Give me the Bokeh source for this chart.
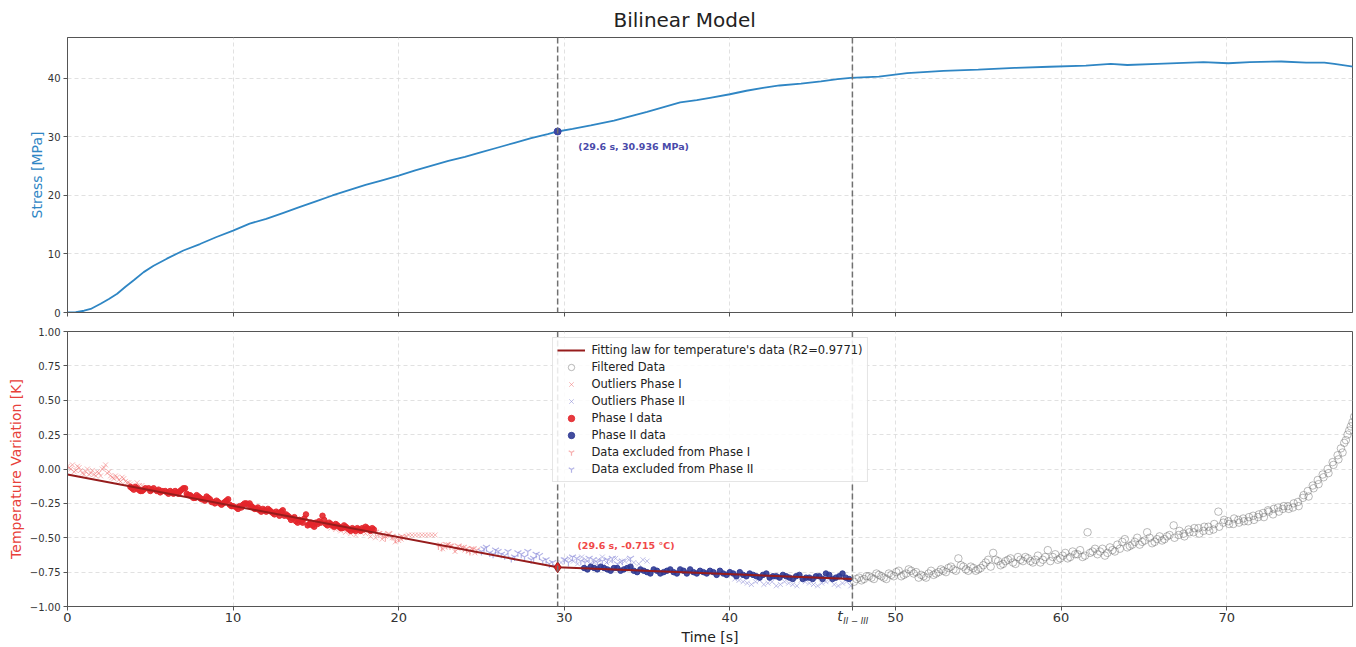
from bokeh.plotting import figure
from bokeh.models import (Range1d, FixedTicker, Span, Label, Legend, LegendItem,
                          CustomJSTickFormatter, LinearAxis)
from bokeh.layouts import column
from bokeh.embed import file_html
from bokeh.resources import INLINE

FONT = "DejaVu Sans"

# ---------------- data ----------------
stress_t = [0, 0.5, 1, 1.4, 2, 2.5, 3, 3.5, 4, 4.6, 5.2, 6, 7, 8, 9, 10, 11, 12, 13, 14,
            15, 16, 17, 18, 19, 20, 21, 22, 23, 24, 25, 26, 27, 28, 29, 29.6, 30.5, 31.6,
            33, 34.2, 35, 36, 37, 38, 38.8, 40, 41, 42, 43, 44.3, 45.5, 46.5, 47.3, 49,
            50.7, 52.9, 55, 57.2, 59.3, 61.5, 63, 64, 65.8, 68.6, 70.1, 71.4, 73.3, 74.8,
            75.9, 76.5, 77.7]
stress_v = [0, 0.05, 0.3, 0.6, 1.5, 2.3, 3.2, 4.4, 5.5, 6.9, 8.0, 9.2, 10.6, 11.7, 12.9,
            14.0, 15.2, 16.0, 17.0, 18.0, 19.0, 20.0, 20.9, 21.8, 22.6, 23.4, 24.3, 25.1,
            25.9, 26.6, 27.4, 28.2, 29.0, 29.8, 30.5, 30.936, 31.4, 32.0, 32.8, 33.7, 34.3,
            35.1, 35.9, 36.3, 36.7, 37.3, 37.9, 38.4, 38.8, 39.1, 39.5, 39.9, 40.1, 40.3,
            40.9, 41.3, 41.5, 41.8, 42.0, 42.2, 42.5, 42.3, 42.5, 42.8, 42.6, 42.8, 42.9,
            42.7, 42.7, 42.5, 42.0]

break_t = 29.6
break_stress = 30.936
break_temp = -0.715
t_transition = 47.4

fit_t = [0.0, break_t, t_transition]
fit_T = [-0.04, break_temp, -0.80]

phase1_pts = [
    (3.8, -0.13), (3.9, -0.14), (4.0, -0.15), (4.1, -0.13), (4.2, -0.14), (4.3, -0.15),
    (4.4, -0.16), (4.5, -0.16), (4.6, -0.15), (4.7, -0.14), (4.9, -0.14), (5.0, -0.16),
    (5.1, -0.15), (5.2, -0.14), (5.4, -0.16), (5.5, -0.15), (5.6, -0.17), (5.7, -0.16),
    (5.9, -0.16), (6.0, -0.17), (6.1, -0.18), (6.2, -0.16), (6.3, -0.17), (6.4, -0.18),
    (6.5, -0.16), (6.6, -0.17), (6.7, -0.18), (6.8, -0.16), (6.9, -0.15), (7.0, -0.14),
    (7.1, -0.14), (7.2, -0.18), (7.3, -0.19), (7.4, -0.19), (7.5, -0.20), (7.6, -0.21),
    (7.7, -0.21), (7.8, -0.19), (7.9, -0.20), (8.0, -0.21), (8.1, -0.22), (8.2, -0.22),
    (8.3, -0.23), (8.4, -0.20), (8.5, -0.21), (8.6, -0.22), (8.7, -0.24), (8.8, -0.24),
    (8.9, -0.25), (9.0, -0.23), (9.1, -0.24), (9.2, -0.25), (9.3, -0.26), (9.4, -0.25),
    (9.5, -0.24), (9.6, -0.23), (9.7, -0.22), (9.8, -0.26), (9.9, -0.27), (10.0, -0.27),
    (10.2, -0.28), (10.3, -0.29), (10.4, -0.27), (10.5, -0.28), (10.6, -0.26), (10.7, -0.25),
    (10.8, -0.25), (10.9, -0.26), (11.0, -0.25), (11.1, -0.27), (11.2, -0.28), (11.3, -0.29),
    (11.4, -0.29), (11.5, -0.28), (11.6, -0.30), (11.7, -0.31), (11.8, -0.29), (11.9, -0.30),
    (12.0, -0.31), (12.1, -0.29), (12.2, -0.30), (12.3, -0.31), (12.4, -0.32), (12.5, -0.33),
    (12.6, -0.31), (12.7, -0.32), (12.8, -0.34), (12.9, -0.31), (13.0, -0.30), (13.1, -0.34),
    (13.2, -0.33), (13.3, -0.34), (13.4, -0.35), (13.5, -0.37), (13.6, -0.36), (13.7, -0.35),
    (13.8, -0.38), (13.9, -0.39), (14.0, -0.37), (14.1, -0.38), (14.2, -0.39), (14.3, -0.36),
    (14.4, -0.33), (14.5, -0.41), (14.6, -0.40), (14.7, -0.39), (14.8, -0.41), (14.9, -0.42),
    (15.0, -0.39), (15.1, -0.40), (15.2, -0.38), (15.3, -0.39), (15.4, -0.34), (15.5, -0.37),
    (15.6, -0.40), (15.7, -0.41), (15.8, -0.39), (15.9, -0.40), (16.0, -0.41), (16.1, -0.42),
    (16.2, -0.40), (16.3, -0.41), (16.4, -0.42), (16.5, -0.43), (16.6, -0.43), (16.7, -0.41),
    (16.8, -0.42), (16.9, -0.43), (17.0, -0.44), (17.1, -0.45), (17.2, -0.43), (17.3, -0.44),
    (17.4, -0.45), (17.5, -0.43), (17.6, -0.44), (17.7, -0.45), (17.8, -0.43), (17.9, -0.44),
    (18.0, -0.42), (18.1, -0.43), (18.2, -0.44), (18.3, -0.45), (18.4, -0.43), (18.5, -0.44)]

phase2_pts = [
    (31.2, -0.72), (31.4, -0.73), (31.6, -0.71), (31.8, -0.72), (32.0, -0.73), (32.2, -0.71),
    (32.4, -0.72), (32.6, -0.73), (32.8, -0.74), (33.0, -0.72), (33.2, -0.72), (33.4, -0.74),
    (33.6, -0.73), (33.8, -0.72), (34.0, -0.71), (34.2, -0.74), (34.4, -0.75), (34.6, -0.73),
    (34.8, -0.74), (35.0, -0.75), (35.2, -0.76), (35.4, -0.73), (35.6, -0.74), (35.8, -0.76),
    (36.0, -0.75), (36.2, -0.74), (36.4, -0.73), (36.6, -0.75), (36.8, -0.76), (37.0, -0.73),
    (37.2, -0.74), (37.4, -0.76), (37.6, -0.73), (37.8, -0.75), (38.0, -0.76), (38.2, -0.74),
    (38.4, -0.75), (38.6, -0.76), (38.8, -0.74), (39.0, -0.75), (39.2, -0.77), (39.4, -0.74),
    (39.6, -0.76), (39.8, -0.77), (40.0, -0.75), (40.2, -0.76), (40.4, -0.78), (40.6, -0.75),
    (40.8, -0.77), (41.0, -0.78), (41.2, -0.76), (41.4, -0.77), (41.6, -0.78), (41.8, -0.79),
    (42.0, -0.77), (42.2, -0.76), (42.4, -0.79), (42.6, -0.78), (42.8, -0.78), (43.0, -0.79),
    (43.2, -0.77), (43.4, -0.78), (43.6, -0.79), (43.8, -0.80), (44.0, -0.78), (44.2, -0.77),
    (44.4, -0.80), (44.6, -0.79), (44.8, -0.79), (45.0, -0.80), (45.2, -0.78), (45.4, -0.78),
    (45.6, -0.80), (45.8, -0.76), (46.0, -0.77), (46.2, -0.80), (46.4, -0.79), (46.6, -0.78),
    (46.8, -0.76), (47.0, -0.79), (47.2, -0.80)]

out1_pts = [
    (0.0, 0.02), (0.1, 0.01), (0.2, 0.0), (0.3, 0.03), (0.4, -0.02), (0.5, -0.01),
    (0.6, 0.02), (0.7, 0.01), (0.8, -0.01), (0.9, -0.03), (1.0, -0.04), (1.1, -0.02),
    (1.2, 0.0), (1.3, -0.04), (1.4, -0.03), (1.5, -0.01), (1.6, -0.04), (1.7, -0.05),
    (1.8, -0.02), (1.9, -0.03), (2.0, -0.05), (2.1, 0.0), (2.2, 0.01), (2.3, 0.03),
    (2.4, -0.03), (2.5, -0.02), (2.6, -0.05), (2.7, -0.06), (2.8, -0.07), (2.9, -0.05),
    (3.0, -0.06), (3.1, -0.08), (3.2, -0.09), (3.3, -0.06), (3.4, -0.07), (3.5, -0.09),
    (3.6, -0.10), (3.7, -0.10), (3.8, -0.11), (3.9, -0.12), (4.0, -0.13), (4.2, -0.10),
    (4.35, -0.12), (4.5, -0.12), (15.9, -0.43), (16.2, -0.44), (16.5, -0.45), (16.8, -0.46),
    (17.1, -0.47), (17.4, -0.48), (17.7, -0.46), (18.0, -0.47), (18.3, -0.49), (18.6, -0.50),
    (18.8, -0.47), (19.0, -0.51), (19.2, -0.49), (19.4, -0.48), (19.6, -0.50), (19.8, -0.53),
    (20.0, -0.52), (20.15, -0.51), (20.3, -0.50), (20.45, -0.49), (20.6, -0.48), (20.8, -0.48),
    (21.0, -0.48), (21.2, -0.48), (21.4, -0.48), (21.6, -0.48), (21.8, -0.48), (22.0, -0.48),
    (22.2, -0.48), (22.5, -0.55), (22.65, -0.58), (22.8, -0.57), (23.0, -0.55), (23.2, -0.56),
    (23.4, -0.60), (23.6, -0.58), (23.8, -0.57), (24.0, -0.59), (24.2, -0.60), (24.4, -0.58),
    (24.6, -0.61)]

out2_pts = [
    (29.8, -0.68), (30.05, -0.66), (30.3, -0.65), (30.55, -0.67), (30.8, -0.69), (31.05, -0.64),
    (31.3, -0.66), (31.55, -0.69), (31.8, -0.68), (32.05, -0.66), (32.3, -0.64), (32.55, -0.68),
    (32.8, -0.67), (33.1, -0.65), (33.4, -0.68), (33.65, -0.67), (33.9, -0.66), (34.2, -0.68),
    (34.5, -0.69), (34.75, -0.66), (35.0, -0.67), (40.3, -0.80), (40.55, -0.81), (40.8, -0.82),
    (41.05, -0.83), (41.3, -0.84), (41.55, -0.82), (41.8, -0.81), (42.05, -0.84), (42.3, -0.83),
    (42.55, -0.82), (42.8, -0.85), (43.05, -0.84), (43.3, -0.82), (43.55, -0.83), (43.8, -0.84),
    (44.05, -0.85), (44.3, -0.81), (44.55, -0.82), (44.8, -0.83), (45.05, -0.84), (45.3, -0.85),
    (45.55, -0.83), (45.8, -0.82), (46.05, -0.81), (46.3, -0.84), (46.55, -0.85), (46.8, -0.83),
    (47.05, -0.82), (47.3, -0.85)]

excl1_pts = [
    (18.6, -0.46), (18.8, -0.47), (19.0, -0.48), (19.2, -0.50), (19.4, -0.47), (19.6, -0.49),
    (19.8, -0.51), (20.0, -0.50), (20.2, -0.49), (22.4, -0.56), (22.6, -0.57), (22.9, -0.55),
    (23.1, -0.56), (23.4, -0.58), (23.6, -0.56), (23.9, -0.57), (24.1, -0.58), (24.3, -0.60),
    (24.5, -0.58), (24.7, -0.59)]

excl2_pts = [
    (25.0, -0.60), (25.15, -0.58), (25.3, -0.57), (25.5, -0.61), (25.7, -0.62), (25.85, -0.59),
    (26.0, -0.60), (26.2, -0.62), (26.4, -0.63), (26.6, -0.60), (26.8, -0.65), (27.0, -0.64),
    (27.2, -0.61), (27.4, -0.62), (27.6, -0.64), (27.8, -0.60), (28.0, -0.66), (28.15, -0.65),
    (28.3, -0.62), (28.5, -0.63), (28.7, -0.67), (28.9, -0.66), (29.1, -0.69), (29.3, -0.68),
    (29.5, -0.71), (30.0, -0.66), (30.25, -0.68), (30.5, -0.64), (30.75, -0.65), (31.0, -0.67),
    (31.25, -0.68), (31.5, -0.65), (31.75, -0.66), (32.0, -0.68), (32.3, -0.67), (32.6, -0.66),
    (32.9, -0.65), (33.2, -0.69), (33.5, -0.67), (34.0, -0.65)]

filt_pts = [
    (47.5, -0.82), (47.65, -0.80), (47.8, -0.79), (47.95, -0.81), (48.1, -0.80), (48.25, -0.78),
    (48.4, -0.78), (48.55, -0.79), (48.7, -0.80), (48.85, -0.76), (49.0, -0.77), (49.15, -0.78),
    (49.3, -0.79), (49.45, -0.80), (49.6, -0.76), (49.75, -0.77), (49.9, -0.78), (50.05, -0.75),
    (50.2, -0.74), (50.35, -0.78), (50.5, -0.77), (50.65, -0.76), (50.8, -0.73), (50.95, -0.74),
    (51.1, -0.76), (51.25, -0.75), (51.4, -0.79), (51.55, -0.77), (51.7, -0.78), (51.85, -0.79),
    (52.0, -0.76), (52.15, -0.74), (52.3, -0.77), (52.45, -0.76), (52.6, -0.75), (52.75, -0.73),
    (52.9, -0.74), (53.05, -0.75), (53.2, -0.72), (53.35, -0.71), (53.5, -0.73), (53.65, -0.74),
    (53.8, -0.65), (53.95, -0.70), (54.1, -0.71), (54.25, -0.73), (54.4, -0.74), (54.55, -0.71),
    (54.7, -0.72), (54.85, -0.74), (55.0, -0.73), (55.15, -0.72), (55.3, -0.70), (55.45, -0.68),
    (55.6, -0.66), (55.75, -0.71), (55.9, -0.61), (56.05, -0.66), (56.2, -0.67), (56.35, -0.70),
    (56.5, -0.69), (56.65, -0.67), (56.8, -0.66), (56.95, -0.65), (57.1, -0.68), (57.25, -0.69),
    (57.4, -0.64), (57.55, -0.66), (57.7, -0.67), (57.85, -0.64), (58.0, -0.65), (58.15, -0.67),
    (58.3, -0.68), (58.45, -0.66), (58.6, -0.63), (58.75, -0.68), (58.9, -0.66), (59.05, -0.64),
    (59.2, -0.59), (59.35, -0.67), (59.5, -0.64), (59.65, -0.62), (59.8, -0.66), (59.95, -0.65),
    (60.1, -0.63), (60.25, -0.61), (60.4, -0.65), (60.55, -0.64), (60.7, -0.60), (60.85, -0.62),
    (61.0, -0.62), (61.15, -0.59), (61.3, -0.64), (61.45, -0.63), (61.6, -0.46), (61.75, -0.61),
    (61.9, -0.60), (62.05, -0.58), (62.2, -0.62), (62.35, -0.60), (62.5, -0.58), (62.65, -0.63),
    (62.8, -0.61), (62.95, -0.57), (63.1, -0.59), (63.25, -0.60), (63.4, -0.55), (63.55, -0.58),
    (63.7, -0.53), (63.85, -0.51), (64.0, -0.57), (64.15, -0.56), (64.3, -0.55), (64.45, -0.53),
    (64.6, -0.50), (64.75, -0.55), (64.9, -0.53), (65.05, -0.52), (65.2, -0.46), (65.35, -0.50),
    (65.5, -0.54), (65.65, -0.53), (65.8, -0.51), (65.95, -0.49), (66.1, -0.52), (66.25, -0.51),
    (66.4, -0.49), (66.55, -0.48), (66.8, -0.41), (66.85, -0.50), (67.1, -0.48), (67.15, -0.45),
    (67.4, -0.47), (67.45, -0.49), (67.7, -0.44), (67.75, -0.46), (68.0, -0.46), (68.05, -0.43),
    (68.3, -0.43), (68.35, -0.47), (68.6, -0.45), (68.65, -0.42), (68.9, -0.42), (68.95, -0.45),
    (69.2, -0.44), (69.25, -0.40), (69.5, -0.31), (69.55, -0.42), (69.8, -0.39), (69.85, -0.37),
    (70.1, -0.38), (70.15, -0.40), (70.4, -0.40), (70.45, -0.36), (70.7, -0.37), (70.75, -0.39),
    (71.0, -0.36), (71.05, -0.38), (71.3, -0.38), (71.35, -0.35), (71.6, -0.34), (71.65, -0.37),
    (71.9, -0.35), (71.95, -0.33), (72.2, -0.32), (72.25, -0.35), (72.5, -0.30), (72.55, -0.31),
    (72.8, -0.33), (72.85, -0.29), (73.1, -0.28), (73.15, -0.31), (73.4, -0.29), (73.45, -0.27),
    (73.7, -0.27), (73.75, -0.29), (74.0, -0.28), (74.05, -0.25), (74.3, -0.24), (74.35, -0.27),
    (74.6, -0.21), (74.65, -0.19), (74.9, -0.16), (74.95, -0.20), (75.2, -0.12), (75.25, -0.14),
    (75.5, -0.08), (75.55, -0.11), (75.8, -0.04), (75.85, -0.06), (76.1, 0.0), (76.15, -0.03),
    (76.4, 0.05), (76.45, 0.03), (76.7, 0.10), (76.75, 0.07), (76.9, 0.15), (77.0, 0.12),
    (77.1, 0.19), (77.2, 0.21), (77.3, 0.25), (77.4, 0.28), (77.5, 0.31), (77.6, 0.34),
    (77.7, 0.38)]

x_ticks = [0, 10, 20, 30, 40, t_transition, 50, 60, 70]
stress_ticks = [0, 10, 20, 30, 40]
temp_ticks = [-1.0, -0.75, -0.5, -0.25, 0.0, 0.25, 0.5, 0.75, 1.0]
t_label_parts = ["t", "II \u2212 III"]

legend_labels = ["Fitting law for temperature's data (R2=0.9771)", "Filtered Data",
                 "Outliers Phase I", "Outliers Phase II", "Phase I data", "Phase II data",
                 "Data excluded from Phase I", "Data excluded from Phase II"]


def split(pts):
    return [p[0] for p in pts], [p[1] for p in pts]


# ---------------- styling helpers ----------------
AX = "#555555"
STRESS_C = "#2f86c4"
TEMP_C = "#e8403a"


def style(p):
    p.outline_line_color = AX
    p.outline_line_width = 1
    p.background_fill_color = "white"
    p.border_fill_color = "white"
    for ax in p.axis:
        ax.axis_line_color = AX
        ax.major_tick_line_color = AX
        ax.major_tick_out = 4
        ax.major_tick_in = 0
        ax.minor_tick_out = 0
        ax.minor_tick_in = 0
        ax.major_label_text_font = FONT
        ax.axis_label_text_font = FONT
        ax.axis_label_text_font_style = "normal"
        ax.major_label_text_color = "#333333"
    for g in p.grid:
        g.grid_line_color = "#d9d9d9"
        g.grid_line_dash = "4 3"
        g.grid_line_width = 0.8


x_range = Range1d(0, 77.6)

# ---------------- top: stress ----------------
p1 = figure(width=1356, height=320, x_range=x_range, y_range=Range1d(0, 47),
            output_backend="svg", toolbar_location=None,
            min_border_left=67, min_border_right=4, min_border_top=37, min_border_bottom=8)
p1.title.text = "Bilinear Model"
p1.title.text_font = FONT
p1.title.text_font_size = "20px"
p1.title.text_font_style = "normal"
p1.title.text_color = "#222222"
p1.title.align = "left"
p1.title.offset = 546
p1.title.standoff = 11
style(p1)
p1.xaxis.ticker = FixedTicker(ticks=x_ticks)
p1.xaxis.formatter = CustomJSTickFormatter(code="return '';")
p1.xaxis.major_label_standoff = 0
p1.xaxis.major_label_text_font_size = "1px"
p1.yaxis.ticker = FixedTicker(ticks=stress_ticks)
p1.yaxis.major_label_text_font_size = "10px"
p1.yaxis.major_label_standoff = 3
p1.yaxis.axis_label = "Stress [MPa]"
p1.yaxis.axis_label_text_color = STRESS_C
p1.yaxis.axis_label_text_font_size = "14px"
p1.yaxis.axis_label_standoff = 0

p1.line(stress_t, stress_v, color=STRESS_C, line_width=1.8)
p1.scatter([break_t], [break_stress], size=7, color="#3b45a3")
p1.add_layout(Label(x=break_t + 1.25, y=break_stress - 2.55,
                    text=f"({break_t} s, {break_stress} MPa)", text_font=FONT,
                    text_font_size="9.5px", text_font_style="bold", text_color="#4a4aaa",
                    text_baseline="middle", text_align="left"))

# ---------------- bottom: temperature ----------------
p2 = figure(width=1356, height=327, x_range=x_range, y_range=Range1d(-1, 1),
            output_backend="svg", toolbar_location=None,
            min_border_left=67, min_border_right=4, min_border_top=11, min_border_bottom=40)
style(p2)
p2.xaxis.ticker = FixedTicker(ticks=x_ticks)
p2.xaxis.formatter = CustomJSTickFormatter(
    args=dict(tt=t_transition),
    code="return (Math.abs(tick - tt) < 1e-6) ? '' : tick.toFixed(0);")
p2.xaxis.major_label_text_font_size = "13px"
p2.xaxis.major_label_standoff = 2
p2.yaxis.ticker = FixedTicker(ticks=temp_ticks)
p2.yaxis.formatter = CustomJSTickFormatter(
    code="return tick.toFixed(2).replace('-', '\\u2212');")
p2.yaxis.major_label_text_font_size = "10px"
p2.yaxis.major_label_standoff = 3
p2.yaxis.axis_label = "Temperature Variation [K]"
p2.yaxis.axis_label_text_color = TEMP_C
p2.yaxis.axis_label_text_font_size = "14px"
p2.yaxis.axis_label_standoff = 3

# extra below axes carrying the italic t_{II-III} tick label and the x title
ax_t = LinearAxis(ticker=FixedTicker(ticks=[t_transition - 0.75]),
                  formatter=CustomJSTickFormatter(args=dict(s=t_label_parts[0]),
                                                  code="return s;"),
                  axis_line_color=None, major_tick_line_color=None,
                  minor_tick_line_color=None, major_tick_out=0, major_tick_in=0,
                  major_label_text_font=FONT, major_label_text_font_size="14px",
                  major_label_text_font_style="italic", major_label_text_color="#333333",
                  major_label_standoff=-17)
ax_sub = LinearAxis(ticker=FixedTicker(ticks=[t_transition + 0.2]),
                    formatter=CustomJSTickFormatter(args=dict(s=t_label_parts[1]),
                                                    code="return s;"),
                    axis_line_color=None, major_tick_line_color=None,
                    minor_tick_line_color=None, major_tick_out=0, major_tick_in=0,
                    major_label_text_font=FONT, major_label_text_font_size="8.5px",
                    major_label_text_font_style="italic", major_label_text_color="#333333",
                    major_label_standoff=-11,
                    axis_label="Time [s]", axis_label_text_font=FONT,
                    axis_label_text_font_size="14px", axis_label_text_font_style="normal",
                    axis_label_text_color="#222222", axis_label_standoff=0)
p2.add_layout(ax_t, "below")
p2.add_layout(ax_sub, "below")

filt_t, filt_T = split(filt_pts)
out1_t, out1_T = split(out1_pts)
out2_t, out2_T = split(out2_pts)
excl1_t, excl1_T = split(excl1_pts)
excl2_t, excl2_T = split(excl2_pts)
phase1_t, phase1_T = split(phase1_pts)
phase2_t, phase2_T = split(phase2_pts)

r_filt = p2.scatter(filt_t, filt_T, marker="circle", size=7.5, fill_alpha=0,
                    line_color="#666666", line_alpha=0.5, line_width=0.9)
r_out1 = p2.scatter(out1_t, out1_T, marker="x", size=7, line_color="#f07070",
                    line_alpha=0.5, line_width=1)
r_out2 = p2.scatter(out2_t, out2_T, marker="x", size=7, line_color="#8c8cd6",
                    line_alpha=0.55, line_width=1)
r_ex1 = p2.scatter(excl1_t, excl1_T, marker="y", size=8, line_color="#f27a7a",
                   line_alpha=0.6, line_width=1.2)
r_ex2 = p2.scatter(excl2_t, excl2_T, marker="y", size=8, line_color="#8a8ad8",
                   line_alpha=0.65, line_width=1.2)
r_p1 = p2.scatter(phase1_t, phase1_T, marker="circle", size=5.5, color="#e3262b",
                  alpha=0.9)
r_p2 = p2.scatter(phase2_t, phase2_T, marker="circle", size=5.5, color="#2f3a94",
                  alpha=0.9)
r_fit = p2.line(fit_t, fit_T, color="#961c1c", line_width=2)
p2.scatter([break_t], [break_temp], marker="diamond", size=11, color="#e02424",
           line_color="#8a1010", line_width=0.8)

p2.add_layout(Label(x=break_t + 1.2, y=break_temp + 0.157,
                    text=f"({break_t} s, {break_temp} °C)", text_font=FONT,
                    text_font_size="9.5px", text_font_style="bold", text_color="#f04848",
                    text_baseline="middle", text_align="left"))

for p in (p1, p2):
    for xv in (break_t, t_transition):
        p.add_layout(Span(location=xv, dimension="height", line_color="#707070",
                          line_dash="6 3", line_width=1.5))

legend = Legend(items=[
    LegendItem(label=legend_labels[0], renderers=[r_fit]),
    LegendItem(label=legend_labels[1], renderers=[r_filt]),
    LegendItem(label=legend_labels[2], renderers=[r_out1]),
    LegendItem(label=legend_labels[3], renderers=[r_out2]),
    LegendItem(label=legend_labels[4], renderers=[r_p1]),
    LegendItem(label=legend_labels[5], renderers=[r_p2]),
    LegendItem(label=legend_labels[6], renderers=[r_ex1]),
    LegendItem(label=legend_labels[7], renderers=[r_ex2]),
], location="top_center")
legend.margin = 6
legend.padding = 4
legend.spacing = 1
legend.label_height = 16
legend.glyph_height = 16
legend.glyph_width = 28
legend.label_standoff = 7
legend.label_text_font = FONT
legend.label_text_font_size = "11.5px"
legend.label_text_color = "#222222"
legend.background_fill_alpha = 0.85
legend.border_line_color = "#cccccc"
legend.border_line_width = 1
p2.add_layout(legend)

layout = column(p1, p2)
open("out.html", "w").write(file_html(layout, INLINE))
